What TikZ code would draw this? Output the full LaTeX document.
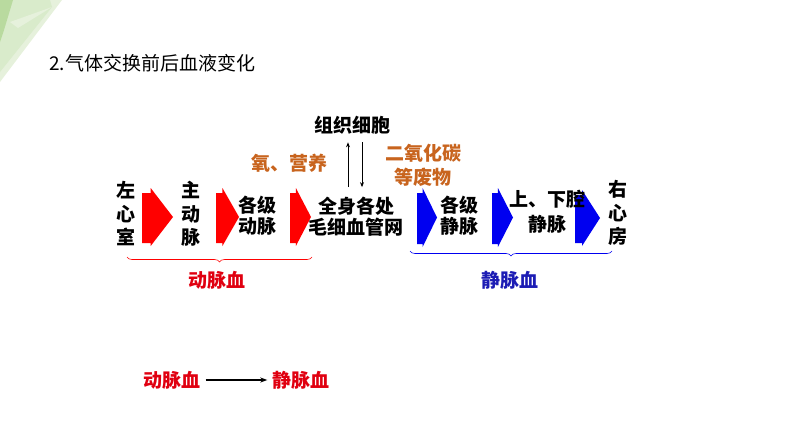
\documentclass[tikz,border=0pt]{standalone}
\usepackage{fontspec}
\setmainfont{Noto Sans CJK SC}
\usetikzlibrary{decorations.pathreplacing,arrows.meta}
\definecolor{arrred}{HTML}{FF0000}
\definecolor{arrblue}{HTML}{0000F0}
\definecolor{txtred}{HTML}{E00010}
\definecolor{txtblue}{HTML}{1C1CB4}
\definecolor{txtorange}{HTML}{C8641E}
\definecolor{gA}{HTML}{D9EBCB}
\definecolor{gB}{HTML}{B9DA9F}
\definecolor{gC}{HTML}{E6F1DC}
\newcommand\blockarrow[5]{%
  \fill[#1] (#2,{#4+5}) -- ({#2+0.28*(#3-#2)},{#4+5}) -- ({#2+0.28*(#3-#2)},#4)
    -- (#3,{(#4+#5)/2}) -- ({#2+0.28*(#3-#2)},#5) -- ({#2+0.28*(#3-#2)},{#5-3})
    -- (#2,{#5-3}) -- cycle;}
\tikzset{
  lbl/.style={inner sep=0pt, align=center, font=\fontsize{19}{21}\selectfont\bfseries},
  vlbl/.style={lbl, font=\fontsize{19}{23.5}\selectfont\bfseries},
  brc/.style={decorate, decoration={brace, mirror, amplitude=5pt}, line width=0.6pt},
  exarrow/.style={-{Stealth[length=5pt,width=4pt]}, line width=0.9pt},
}
\begin{document}
\begin{tikzpicture}[x=1pt,y=-1pt]
\useasboundingbox (0,0) rectangle (794,447);
% decoration top-left
\fill[gC] (0,0) -- (62,0) -- (0,82) -- cycle;
\fill[gA] (0,0) -- (50,0) -- (52,7) -- (0,72) -- cycle;
\fill[gC] (10,22) -- (52,7) -- (18,28) -- cycle;
\fill[gB] (0,0) -- (13,0) -- (4,30) -- (0,42) -- cycle;
% title
\node[inner sep=0pt, anchor=west, font=\fontsize{19}{21}\selectfont] (title) at (49,63) {2.气体交换前后血液变化};
% block arrows
\blockarrow{arrred}{142}{173}{188}{246}
\blockarrow{arrred}{216}{239}{188}{246}
\blockarrow{arrred}{290}{311}{188}{246}
\blockarrow{arrblue}{417}{437}{188}{247}
\blockarrow{arrblue}{492}{513}{188}{247}
\blockarrow{arrblue}{575}{600}{190}{246}
% labels
\node[vlbl] (lv) at (126,214) {左\\心\\室};
\node[vlbl] (aorta) at (191,214) {主\\动\\脉};
\node[lbl] (art) at (257,216) {各级\\动脉};
\node[lbl] (cap) at (356,217) {全身各处\\毛细血管网};
\node[lbl] (cells) at (352,125) {组织细胞};
\node[lbl, text=txtorange] (o2) at (289,163) {氧、营养};
\node[lbl, text=txtorange, font=\fontsize{19}{24}\selectfont\bfseries] (co2) at (423,165) {二氧化碳\\等废物};
\node[lbl] (vein) at (459,216) {各级\\静脉};
\node[lbl, font=\fontsize{19}{25}\selectfont\bfseries] (vc) at (547,212) {上、下腔\\静脉};
\node[vlbl] (ra) at (618,213) {右\\心\\房};
% exchange arrows
\draw[exarrow] ([xshift=-8pt,yshift=10pt]cap.north) -- ([xshift=-4pt,yshift=-8pt]cells.south);
\draw[exarrow] ([xshift=10pt,yshift=-8pt]cells.south) -- ([xshift=6pt,yshift=10pt]cap.north);
% braces
\coordinate (rb1) at (127,257);
\coordinate (rb2) at (312,257);
\coordinate (bb1) at (410,251);
\coordinate (bb2) at (612,251);
\draw[brc, arrred] (rb1) -- (rb2);
\draw[brc, arrblue] (bb1) -- (bb2);
\node[lbl, text=txtred] (ab) at (217,280) {动脉血};
\node[lbl, text=txtblue] (vb) at (510,280) {静脉血};
% bottom
\node[lbl, text=txtred] (ab2) at (172,380) {动脉血};
\node[lbl, text=txtred] (vb2) at (301,380) {静脉血};
\draw[-{Stealth[length=7pt,width=5pt]}, line width=1.1pt] ([xshift=5pt]ab2.east) -- ([xshift=-5pt]vb2.west);
\end{tikzpicture}
\end{document}
